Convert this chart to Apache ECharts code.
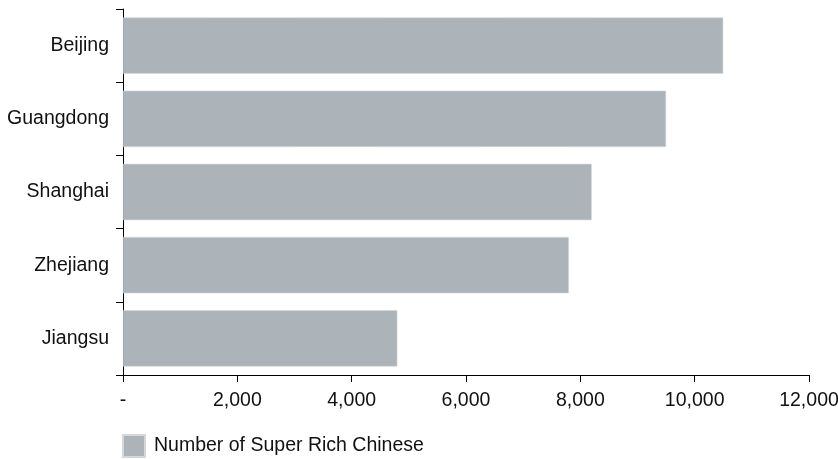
<!DOCTYPE html>
<html>
<head>
<meta charset="utf-8">
<style>
  html, body { margin: 0; padding: 0; background: #fff; }
  #chart { width: 838px; height: 459px; }
</style>
<script src="https://cdn.jsdelivr.net/npm/echarts@6/dist/echarts.min.js"></script>
</head>
<body>
<div id="chart"></div>
<script>
// Provinces, listed top to bottom
const provinces = ['Beijing', 'Guangdong', 'Shanghai', 'Zhejiang', 'Jiangsu'];
// Number of super rich individuals per province
const superRich = [10500, 9500, 8200, 7800, 4800];
const seriesName = 'Number of Super Rich Chinese';

const FONT = "'Liberation Sans', Arial, sans-serif";
const FS = 19.5;
const BAR = '#adb4b9';

const chart = echarts.init(document.getElementById('chart'));
chart.setOption({
  animation: false,
  textStyle: { fontFamily: FONT },
  grid: { left: 123, right: 29, top: 9, bottom: 84, containLabel: false, outerBoundsMode: 'none' },
  legend: {
    left: 122,
    top: 434,
    padding: 0,
    itemWidth: 22,
    itemHeight: 22,
    itemGap: 10,
    icon: 'rect',
    textStyle: { fontFamily: FONT, fontSize: FS, color: '#111', padding: [0, 0, 0, 4] },
    data: [seriesName]
  },
  xAxis: {
    type: 'value',
    min: 0,
    max: 12000,
    interval: 2000,
    splitLine: { show: false },
    axisLine: { show: true, lineStyle: { color: '#000', width: 1 } },
    axisTick: { show: true, length: 7, lineStyle: { color: '#000', width: 1 } },
    axisLabel: {
      margin: 16,
      fontFamily: FONT,
      fontSize: FS,
      color: '#111',
      formatter: v => v === 0 ? '-' : v.toLocaleString('en-US')
    }
  },
  yAxis: {
    type: 'category',
    inverse: true,
    data: provinces,
    axisLine: { show: true, lineStyle: { color: '#000', width: 1 } },
    axisTick: { show: true, length: 7, lineStyle: { color: '#000', width: 1 } },
    axisLabel: { margin: 14, fontFamily: FONT, fontSize: FS, color: '#111' }
  },
  series: [{
    name: seriesName,
    type: 'bar',
    data: superRich,
    barCategoryGap: '23%',
    itemStyle: { color: BAR, borderColor: '#d4d8db', borderWidth: 0.6 }
  }]
});
</script>
</body>
</html>
